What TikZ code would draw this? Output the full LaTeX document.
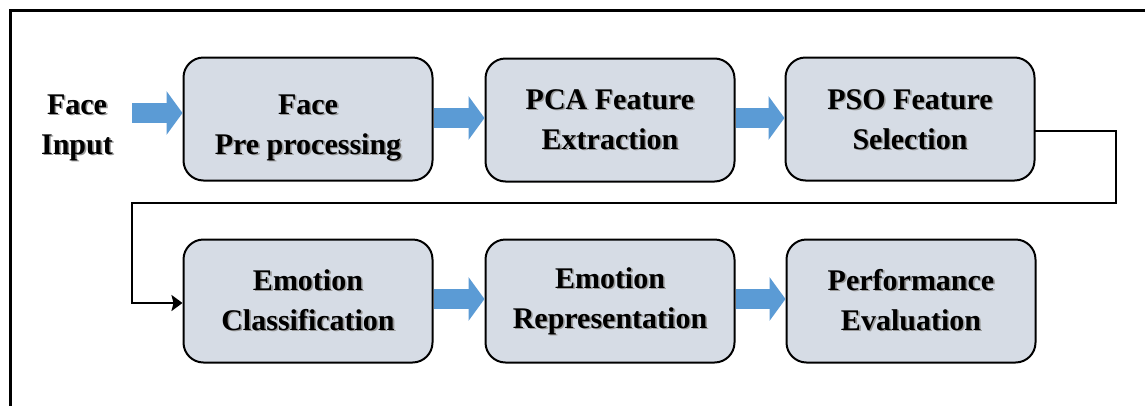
\documentclass[tikz,border=0pt]{standalone}
\usepackage{fontspec}
\setmainfont{Liberation Serif}
\usetikzlibrary{arrows.meta,calc}
\definecolor{boxfill}{HTML}{D6DCE5}
\definecolor{arrowblue}{HTML}{5B9BD5}
\tikzset{
  stagebox/.style={draw=black, line width=2pt, fill=boxfill, rounded corners=20pt,
    minimum width=249pt, minimum height=123pt, inner sep=0pt},
  lbl/.style={font=\fontsize{30}{40}\selectfont\bfseries, align=center, text=black, inner sep=0pt},
  shad/.style={lbl, text=black!40},
  barrow/.style={draw=arrowblue, line width=20pt,
    -{Triangle[width=43pt,length=16pt]}},
  conn/.style={line width=2.3pt, black, line cap=rect},
  connarrow/.style={conn, -{Stealth[length=11pt,width=16pt,inset=2pt]}},
  frame/.style={line width=3.5pt, black}
}
% #1 name, #2 x, #3 y, #4 first line, #5 second line, #6 text y offset
\newcommand{\stagenode}[6]{%
  \node[stagebox] (#1) at (#2,#3) {};
  \node[shad] (#1s) at ($(#1)+(1.6,1.6+#6)$) {\strut #4\\\strut #5};
  \node[lbl] (#1t) at ($(#1)+(0,#6)$) {\strut #4\\\strut #5};
}
\begin{document}
\begin{tikzpicture}[x=1pt,y=-1pt]
\clip (0,0) rectangle (1145,405);
\fill[white] (0,0) rectangle (1145,405);
\draw[frame] (10.5,420) -- (10.5,10.5) -- (1160,10.5);

\stagenode{b1}{308}{119}{Face}{Pre processing}{7}
\stagenode{b2}{610}{120}{PCA Feature}{Extraction}{1}
\stagenode{b3}{910}{119}{PSO Feature}{Selection}{2}
\stagenode{b4}{308}{301}{Emotion}{Classification}{1}
\stagenode{b5}{610}{301}{Emotion}{Representation}{-1}
\stagenode{b6}{911}{301}{Performance}{Evaluation}{1}

\node[shad] (ins) at (78.6,127.6) {\strut Face\\\strut Input};
\node[lbl] (in) at (77,126) {\strut Face\\\strut Input};

\coordinate (a0) at (132,113);
\draw[barrow] (a0) -- (b1.west |- a0);
\draw[barrow] (b1.east |- 0,118) -- (b2.west |- 0,118);
\draw[barrow] (b2.east |- 0,118) -- (b3.west |- 0,118);
\draw[barrow] (b4.east |- 0,299) -- (b5.west |- 0,299);
\draw[barrow] (b5.east |- 0,299) -- (b6.west |- 0,299);

\coordinate (c1) at (1116,131);
\coordinate (c2) at (1116,203);
\coordinate (c3) at (132,203);
\coordinate (c4) at (132,303);
\draw[conn] (b3.east |- c1) -- (c1) -- (c2) -- (c3) -- (c4);
\draw[connarrow] (c4) -- (b4.west |- c4);
\end{tikzpicture}
\end{document}
